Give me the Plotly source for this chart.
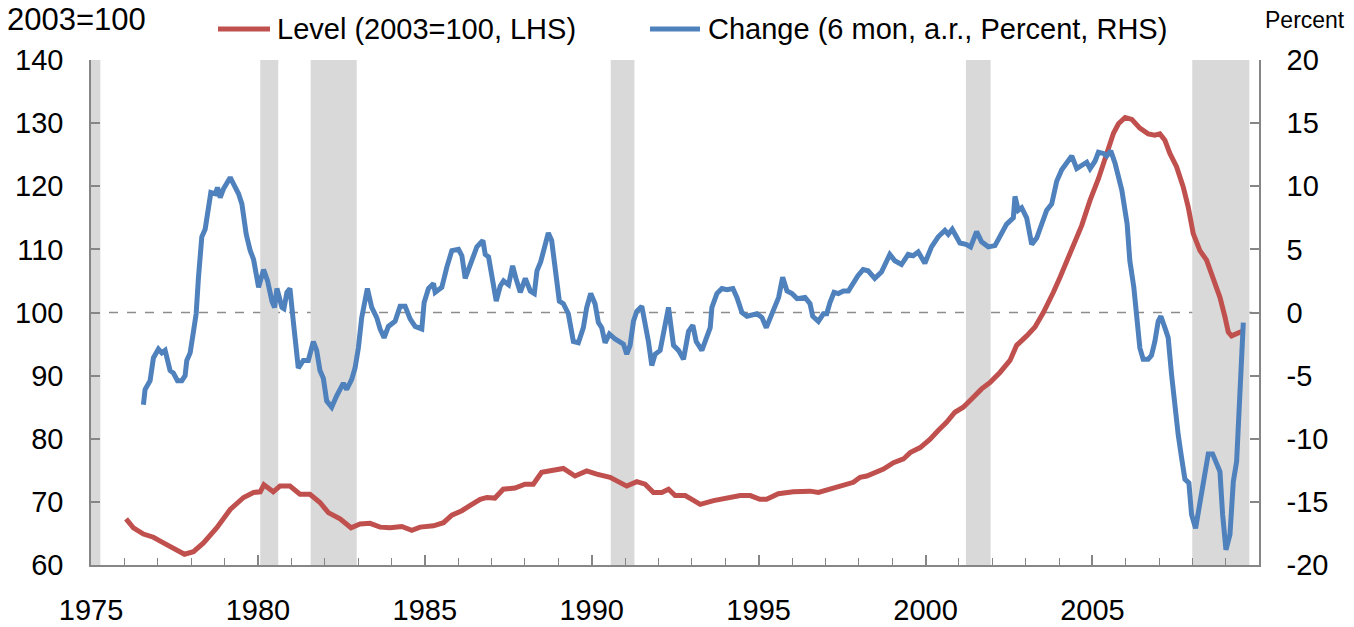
import plotly.graph_objects as go

# ---------------- data ----------------
level_x = [1976.05, 1976.27, 1976.57, 1976.87, 1977.17, 1977.42, 1977.80, 1978.07, 1978.37, 1978.77,
           1979.17, 1979.57, 1979.87, 1980.07, 1980.18, 1980.46, 1980.66, 1980.96, 1981.26, 1981.56,
           1981.86, 1982.11, 1982.46, 1982.79, 1983.06, 1983.36, 1983.66, 1983.96, 1984.31, 1984.61,
           1984.86, 1985.26, 1985.56, 1985.81, 1986.11, 1986.41, 1986.66, 1986.86, 1987.10, 1987.35,
           1987.70, 1988.00, 1988.25, 1988.50, 1988.85, 1989.15, 1989.50, 1989.85, 1990.15, 1990.55,
           1991.05, 1991.35, 1991.60, 1991.85, 1992.10, 1992.30, 1992.50, 1992.80, 1993.00, 1993.25,
           1993.65, 1994.05, 1994.45, 1994.75, 1995.04, 1995.24, 1995.59, 1996.04, 1996.54, 1996.79,
           1997.14, 1997.54, 1997.84, 1998.04, 1998.24, 1998.74, 1999.04, 1999.34, 1999.54, 1999.84,
           2000.13, 2000.38, 2000.63, 2000.88, 2001.13, 2001.38, 2001.68, 2001.93, 2002.23, 2002.53,
           2002.73, 2003.03, 2003.28, 2003.53, 2003.73, 2003.83, 2004.03, 2004.28, 2004.48, 2004.68,
           2004.93, 2005.18, 2005.43, 2005.63, 2005.78, 2005.98, 2006.18, 2006.42, 2006.67, 2006.87,
           2007.02, 2007.17, 2007.32, 2007.52, 2007.72, 2007.87, 2008.02, 2008.22, 2008.42, 2008.62,
           2008.82, 2008.97, 2009.07, 2009.17, 2009.42, 2009.52]
level_y = [67.3, 65.9, 64.9, 64.4, 63.5, 62.7, 61.7, 62.1, 63.5, 65.9,
           68.8, 70.7, 71.5, 71.6, 72.7, 71.6, 72.5, 72.5, 71.2, 71.2,
           69.9, 68.3, 67.3, 65.9, 66.5, 66.6, 66.0, 65.9, 66.1, 65.5,
           66.0, 66.2, 66.7, 67.9, 68.6, 69.6, 70.4, 70.7, 70.6, 72.0,
           72.2, 72.8, 72.8, 74.7, 75.0, 75.3, 74.1, 74.9, 74.4, 73.9,
           72.5, 73.2, 72.8, 71.5, 71.5, 72.0, 71.0, 71.0, 70.4, 69.6,
           70.2, 70.7, 71.0, 71.0, 70.4, 70.4, 71.3, 71.6, 71.7, 71.5,
           72.0, 72.5, 73.1, 73.9, 74.1, 75.2, 76.2, 76.8, 77.8, 78.6,
           79.9, 81.3, 82.6, 84.2, 85.0, 86.3, 87.9, 88.9, 90.5, 92.4,
           94.8, 96.3, 97.7, 100.0, 102.0, 103.2, 105.6, 108.8, 111.4, 113.8,
           117.8, 121.2, 125.2, 128.4, 129.9, 130.9, 130.6, 129.2, 128.3, 128.1,
           128.3, 127.3, 125.2, 123.1, 119.9, 116.7, 112.5, 109.8, 108.3, 105.1,
           102.4, 99.3, 96.9, 96.3, 97.0, 97.1]

change_x = [1976.57, 1976.62, 1976.77, 1976.87, 1977.02, 1977.12, 1977.22, 1977.37, 1977.47, 1977.59,
            1977.72, 1977.82, 1977.87, 1977.97, 1978.07, 1978.15, 1978.22, 1978.32, 1978.42, 1978.52,
            1978.59, 1978.72, 1978.79, 1978.87, 1978.97, 1979.17, 1979.27, 1979.42, 1979.52, 1979.65,
            1979.77, 1979.87, 1980.02, 1980.17, 1980.29, 1980.42, 1980.50, 1980.57, 1980.72, 1980.78,
            1980.87, 1980.96, 1981.06, 1981.21, 1981.36, 1981.51, 1981.66, 1981.76, 1981.86, 1981.96,
            1982.06, 1982.21, 1982.36, 1982.56, 1982.66, 1982.81, 1982.91, 1983.01, 1983.11, 1983.28,
            1983.41, 1983.56, 1983.66, 1983.78, 1983.91, 1984.11, 1984.26, 1984.41, 1984.56, 1984.71,
            1984.91, 1984.98, 1985.11, 1985.26, 1985.31, 1985.51, 1985.66, 1985.81, 1986.01, 1986.11,
            1986.21, 1986.36, 1986.56, 1986.74, 1986.81, 1986.91, 1987.01, 1987.14, 1987.26, 1987.36,
            1987.51, 1987.63, 1987.73, 1987.86, 1988.01, 1988.16, 1988.28, 1988.36, 1988.47, 1988.60,
            1988.70, 1988.80, 1988.90, 1989.03, 1989.15, 1989.30, 1989.45, 1989.60, 1989.75, 1989.85,
            1989.97, 1990.10, 1990.20, 1990.30, 1990.40, 1990.53, 1990.70, 1990.85, 1990.95, 1991.05,
            1991.15, 1991.25, 1991.35, 1991.50, 1991.60, 1991.70, 1991.80, 1991.90, 1992.05, 1992.15,
            1992.30, 1992.45, 1992.60, 1992.75, 1992.90, 1993.03, 1993.13, 1993.30, 1993.40, 1993.55,
            1993.60, 1993.75, 1993.90, 1994.05, 1994.23, 1994.35, 1994.50, 1994.65, 1994.95, 1995.10,
            1995.23, 1995.35, 1995.50, 1995.60, 1995.72, 1995.85, 1996.00, 1996.15, 1996.39, 1996.54,
            1996.62, 1996.79, 1996.94, 1997.04, 1997.14, 1997.26, 1997.39, 1997.54, 1997.69, 1997.82,
            1997.97, 1998.13, 1998.28, 1998.48, 1998.68, 1998.93, 1999.08, 1999.28, 1999.48, 1999.63,
            1999.78, 1999.98, 2000.18, 2000.38, 2000.58, 2000.68, 2000.80, 2001.03, 2001.21, 2001.35,
            2001.53, 2001.68, 2001.88, 2002.08, 2002.23, 2002.43, 2002.63, 2002.68, 2002.78, 2002.88,
            2003.03, 2003.18, 2003.33, 2003.53, 2003.63, 2003.78, 2003.93, 2004.08, 2004.23, 2004.38,
            2004.53, 2004.68, 2004.83, 2004.93, 2005.08, 2005.18, 2005.33, 2005.43, 2005.55, 2005.68,
            2005.88, 2006.04, 2006.12, 2006.24, 2006.32, 2006.42, 2006.52, 2006.67, 2006.77, 2006.87,
            2006.97, 2007.05, 2007.17, 2007.27, 2007.37, 2007.47, 2007.57, 2007.67, 2007.77, 2007.89,
            2007.97, 2008.09, 2008.22, 2008.32, 2008.47, 2008.60, 2008.72, 2008.82, 2008.90, 2009.00,
            2009.12, 2009.22, 2009.32, 2009.42, 2009.52]
change_y = [-7.3, -6.1, -5.4, -3.6, -2.9, -3.2, -3.0, -4.6, -4.8, -5.4,
            -5.4, -5.0, -3.8, -3.2, -1.5, -0.1, 2.8, 6.0, 6.6, 8.3,
            9.5, 9.4, 9.9, 9.1, 9.8, 10.7, 10.2, 9.4, 8.6, 6.2,
            4.9, 4.2, 2.0, 3.4, 2.5, 0.9, 0.4, 1.9, 0.4, 0.3,
            1.6, 1.9, -0.7, -4.4, -3.8, -3.8, -2.3, -3.0, -4.6, -5.2,
            -7.0, -7.5, -6.6, -5.6, -6.1, -5.3, -4.4, -2.8, -0.4, 1.9,
            0.4, -0.4, -1.3, -2.0, -1.1, -0.7, 0.5, 0.5, -0.5, -1.1,
            -1.3, 0.8, 1.9, 2.3, 1.6, 2.0, 3.6, 4.9, 5.0, 4.5,
            2.7, 3.7, 5.2, 5.7, 4.6, 4.4, 2.8, 0.9, 2.1, 2.5,
            2.2, 3.7, 2.7, 1.6, 2.7, 1.7, 1.5, 3.3, 4.0, 5.4,
            6.3, 5.7, 3.3, 0.9, 0.7, -0.1, -2.3, -2.4, -1.2, 0.4,
            1.5, 0.7, -0.8, -1.2, -2.4, -1.7, -2.1, -2.4, -2.5, -3.3,
            -2.6, -0.7, 0.1, 0.5, -0.7, -2.3, -4.2, -3.3, -3.0, -1.8,
            0.4, -2.6, -3.0, -3.7, -1.5, -1.0, -2.3, -3.0, -2.3, -1.2,
            0.4, 1.5, 1.9, 1.8, 1.9, 1.2, 0.0, -0.3, -0.1, -0.4,
            -1.2, -0.4, 0.8, 1.2, 2.8, 1.7, 1.5, 1.1, 1.2, 0.7,
            -0.3, -0.7, -0.1, -0.1, 0.8, 1.6, 1.5, 1.7, 1.7, 2.3,
            2.9, 3.4, 3.3, 2.7, 3.2, 4.6, 4.1, 3.8, 4.6, 4.5,
            4.8, 3.9, 5.2, 6.0, 6.5, 6.2, 6.6, 5.5, 5.4, 5.2,
            6.4, 5.6, 5.2, 5.3, 6.1, 7.0, 7.5, 9.2, 8.1, 8.3,
            7.5, 5.4, 5.9, 7.3, 8.1, 8.6, 10.4, 11.3, 11.8, 12.4,
            11.4, 11.6, 11.9, 11.4, 12.0, 12.7, 12.6, 12.4, 12.8, 11.8,
            9.7, 7.0, 4.1, 2.0, -0.1, -2.8, -3.7, -3.7, -3.4, -2.3,
            -0.7, -0.3, -1.2, -2.0, -4.9, -7.5, -9.7, -11.5, -13.2, -13.5,
            -16.0, -17.1, -14.9, -13.6, -11.2, -11.2, -12.0, -12.6, -16.0, -18.8,
            -17.6, -13.4, -11.8, -7.0, -0.8]

recession_start = [1975.00, 1980.07, 1981.58, 1990.57, 2001.21, 2007.99]
recession_end = [1975.28, 1980.61, 1982.96, 1991.28, 2001.95, 2009.70]

right_tick_values = [-20, -15, -10, -5, 0, 5, 10, 15, 20]
right_tick_labels = ["-20", "-15", "-10", "-5", "0", "5", "10", "15", "20"]

series_names = ["Level (2003=100, LHS)", "Change (6 mon, a.r., Percent, RHS)"]
left_title = "2003=100"
right_title = "Percent"

RED = "#C0504D"
BLUE = "#4F81BD"
AXIS = "#868686"
FONT = "Liberation Sans, Arial, sans-serif"
FS = 29

# plot-area geometry in pixels
W, H = 1354, 627
L, R, T, B = 91, 95, 60, 62
PW, PH = W - L - R, H - T - B


def px_x(p):
    return (p - L) / PW


def px_y(p):
    return (H - B - p) / PH


fig = go.Figure()
fig.add_trace(go.Scatter(x=level_x, y=level_y, mode="lines", name=series_names[0],
                         line=dict(color=RED, width=5), yaxis="y", showlegend=False))
fig.add_trace(go.Scatter(x=change_x, y=change_y, mode="lines", name=series_names[1],
                         line=dict(color=BLUE, width=5), yaxis="y2", showlegend=False))

shapes = []
for s, e in zip(recession_start, recession_end):
    shapes.append(dict(type="rect", xref="x", yref="y", x0=s, x1=e, y0=60, y1=140,
                       fillcolor="#D9D9D9", line=dict(width=0), layer="below"))
shapes.append(dict(type="line", xref="paper", yref="y", x0=0, x1=1, y0=100, y1=100,
                   line=dict(color="#8C8C8C", width=1.5, dash="dash"), layer="below"))

# manual legend (line samples + text)
legend_items = [(series_names[0], RED, 218, 270, 275), (series_names[1], BLUE, 650, 700, 706)]
annotations = []
for name, col, x0, x1, xt in legend_items:
    shapes.append(dict(type="line", xref="paper", yref="paper", x0=px_x(x0), x1=px_x(x1),
                       y0=px_y(29), y1=px_y(29), line=dict(color=col, width=5)))
    annotations.append(dict(text=name, xref="paper", yref="paper", x=px_x(xt), y=px_y(29),
                            xanchor="left", yanchor="middle", showarrow=False,
                            font=dict(size=FS)))
annotations.append(dict(text=left_title, xref="paper", yref="paper", x=px_x(5), y=px_y(20),
                        xanchor="left", yanchor="middle", showarrow=False, font=dict(size=31)))
annotations.append(dict(text=right_title, xref="paper", yref="paper", x=px_x(1263), y=px_y(20),
                        xanchor="left", yanchor="middle", showarrow=False, font=dict(size=23)))

fig.update_layout(
    width=W, height=H,
    margin=dict(l=L, r=R, t=T, b=B, autoexpand=False),
    paper_bgcolor="white", plot_bgcolor="white",
    font=dict(family=FONT, size=FS, color="black"),
    shapes=shapes, annotations=annotations,
    showlegend=False,
    xaxis=dict(range=[1975, 2009.99], tickmode="linear", tick0=1975, dtick=5,
               showgrid=False, zeroline=False, showline=True, linecolor=AXIS, linewidth=1.5,
               ticks="inside", ticklen=10, tickcolor=AXIS, tickwidth=1.5,
               ticklabelstandoff=18, automargin=False,
               minor=dict(dtick=1, tick0=1975, ticks="inside", ticklen=7, tickcolor=AXIS,
                          tickwidth=1.2, showgrid=False)),
    yaxis=dict(range=[60, 140], tickmode="linear", tick0=60, dtick=10, showgrid=False,
               zeroline=False, showline=True, linecolor=AXIS, linewidth=1.5, ticks="inside",
               ticklen=9, tickcolor=AXIS, tickwidth=1.5, ticklabelstandoff=20, automargin=False),
    yaxis2=dict(range=[-20, 20], tickmode="array", tickvals=right_tick_values,
                ticktext=right_tick_labels, overlaying="y",
                side="right", showgrid=False, zeroline=False, showline=True, linecolor=AXIS,
                linewidth=1.5, ticks="inside", ticklen=9, tickcolor=AXIS, tickwidth=1.5,
                ticklabelstandoff=20, automargin=False),
)

fig.write_html("out.html", config={"displayModeBar": False},
               post_script="document.body.style.margin='0px';")
